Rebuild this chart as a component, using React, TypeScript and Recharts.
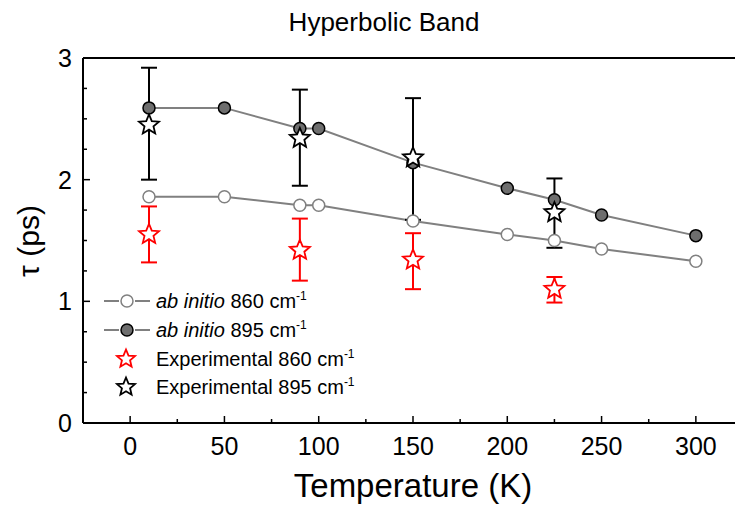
import React from "react";
import {
  ComposedChart,
  Line,
  Scatter,
  ErrorBar,
  XAxis,
  YAxis,
} from "recharts";

const temps = [10, 50, 90, 100, 150, 200, 225, 250, 300];
const abInitio860 = [1.86, 1.86, 1.79, 1.79, 1.66, 1.55, 1.5, 1.43, 1.33];
const abInitio895 = [2.59, 2.59, 2.42, 2.42, 2.14, 1.93, 1.835, 1.71, 1.54];

const expTemps = [10, 90, 150, 225];
const exp860 = [1.55, 1.42, 1.34, 1.1];
const exp860Low = [1.32, 1.17, 1.1, 0.99];
const exp860High = [1.78, 1.68, 1.56, 1.2];
const exp895 = [2.45, 2.34, 2.18, 1.73];
const exp895Low = [2.0, 1.95, 1.67, 1.44];
const exp895High = [2.92, 2.74, 2.67, 2.01];

const xTicks = [0, 25, 50, 75, 100, 125, 150, 175, 200, 225, 250, 275, 300];
const yTicks = [0, 0.25, 0.5, 0.75, 1, 1.25, 1.5, 1.75, 2, 2.25, 2.5, 2.75, 3];

const font = '"Liberation Sans", Arial, sans-serif';
const GRAY = "#808080";
const DARK = "#6e6e6e";

const line860 = temps.map((t, i) => ({ t, v: abInitio860[i] }));
const line895 = temps.map((t, i) => ({ t, v: abInitio895[i] }));
const pts860 = expTemps.map((t, i) => ({
  t,
  v: exp860[i],
  err: [exp860[i] - exp860Low[i], exp860High[i] - exp860[i]],
}));
const pts895 = expTemps.map((t, i) => ({
  t,
  v: exp895[i],
  err: [exp895[i] - exp895Low[i], exp895High[i] - exp895[i]],
}));

function starPoints(cx: number, cy: number, R: number) {
  const r = R * 0.45;
  const pts: string[] = [];
  for (let k = 0; k < 10; k++) {
    const rad = k % 2 === 0 ? R : r;
    const a = -Math.PI / 2 + (k * Math.PI) / 5;
    pts.push(`${cx + rad * Math.cos(a)},${cy + rad * Math.sin(a)}`);
  }
  return pts.join(" ");
}

const Star = ({ cx, cy, color, R = 10.5 }: any) => (
  <polygon
    points={starPoints(cx, cy, R)}
    fill="#fff"
    stroke={color}
    strokeWidth={1.8}
    strokeLinejoin="miter"
  />
);

// x ticks drawn inward, labels only on the 50s
const BottomTick = ({ x, y, payload }: any) => {
  const major = payload.value % 50 === 0;
  return (
    <g>
      <line x1={x} x2={x} y1={y} y2={y - (major ? 7 : 4)} stroke="#000" strokeWidth={1.5} />
      {major && (
        <text x={x} y={y + 32} textAnchor="middle" fontSize={25} fontFamily={font} fill="#000">
          {payload.value}
        </text>
      )}
    </g>
  );
};

const TopTick = ({ x, y, payload }: any) => {
  const major = payload.value % 50 === 0;
  return <line x1={x} x2={x} y1={y} y2={y + (major ? 7 : 4)} stroke="#000" strokeWidth={1.5} />;
};

const LeftTick = ({ x, y, payload }: any) => {
  const major = Number.isInteger(payload.value);
  return (
    <g>
      <line x1={x} x2={x + (major ? 7 : 4)} y1={y} y2={y} stroke="#000" strokeWidth={1.5} />
      {major && (
        <text x={x - 11} y={y + 9} textAnchor="end" fontSize={25} fontFamily={font} fill="#000">
          {payload.value}
        </text>
      )}
    </g>
  );
};

const legendRows = [
  { kind: "open", italic: "ab initio", rest: " 860 cm", y: 301 },
  { kind: "filled", italic: "ab initio", rest: " 895 cm", y: 330 },
  { kind: "red", italic: "", rest: "Experimental 860 cm", y: 359 },
  { kind: "black", italic: "", rest: "Experimental 895 cm", y: 387 },
];

function LegendBox() {
  return (
    <>
      {legendRows.map((row) => (
        <div
          key={row.rest + row.kind}
          style={{ position: "absolute", left: 100, top: row.y - 12, height: 24, display: "flex", alignItems: "center" }}
        >
          <svg width={54} height={24}>
            {(row.kind === "open" || row.kind === "filled") && (
              <>
                <line x1={4} x2={19} y1={12} y2={12} stroke={GRAY} strokeWidth={2} />
                <line x1={35} x2={50} y1={12} y2={12} stroke={GRAY} strokeWidth={2} />
                <circle
                  cx={27}
                  cy={12}
                  r={6}
                  fill={row.kind === "open" ? "#fff" : DARK}
                  stroke={row.kind === "open" ? GRAY : "#000"}
                  strokeWidth={1.5}
                />
              </>
            )}
            {row.kind === "red" && <Star cx={26} cy={12} R={9.5} color="#ff0000" />}
            {row.kind === "black" && <Star cx={26} cy={12} R={9.5} color="#000" />}
          </svg>
          <span style={{ marginLeft: 2, fontFamily: font, fontSize: 20, color: "#000", whiteSpace: "nowrap" }}>
            {row.italic && <i>{row.italic}</i>}
            {row.rest}
            <sup style={{ fontSize: 12 }}>-1</sup>
          </span>
        </div>
      ))}
    </>
  );
}

export default function App() {
  return (
    <div
      style={{
        position: "absolute",
        top: 0,
        left: 0,
        width: 735,
        height: 510,
        overflow: "hidden",
        background: "#fff",
        fontFamily: font,
      }}
    >
      <ComposedChart
        width={745}
        height={510}
        margin={{ top: 48, right: 2, bottom: 47, left: 53 }}
      >
        <XAxis
          xAxisId="main"
          dataKey="t"
          type="number"
          domain={[-25, 325]}
          ticks={xTicks}
          interval={0}
          height={40}
          tickSize={0}
          tickMargin={0}
          tickLine={false}
          tick={<BottomTick />}
          axisLine={{ stroke: "#000", strokeWidth: 2 }}
          allowDataOverflow
        />
        <XAxis
          xAxisId="top"
          orientation="top"
          type="number"
          domain={[-25, 325]}
          ticks={xTicks}
          interval={0}
          height={10}
          tickSize={0}
          tickMargin={0}
          tickLine={false}
          tick={<TopTick />}
          axisLine={{ stroke: "#000", strokeWidth: 2 }}
          allowDataOverflow
        />
        <YAxis
          yAxisId="main"
          type="number"
          domain={[0, 3]}
          ticks={yTicks}
          interval={0}
          width={30}
          tickSize={0}
          tickMargin={0}
          tickLine={false}
          tick={<LeftTick />}
          axisLine={{ stroke: "#000", strokeWidth: 2 }}
          allowDataOverflow
        />
        <Line
          xAxisId="main"
          yAxisId="main"
          data={line860}
          dataKey="v"
          stroke={GRAY}
          strokeWidth={2}
          dot={{ r: 6, fill: "#fff", stroke: GRAY, strokeWidth: 1.5 }}
          activeDot={false}
          isAnimationActive={false}
        />
        <Line
          xAxisId="main"
          yAxisId="main"
          data={line895}
          dataKey="v"
          stroke={GRAY}
          strokeWidth={2}
          dot={{ r: 6, fill: DARK, stroke: "#000", strokeWidth: 1.5 }}
          activeDot={false}
          isAnimationActive={false}
        />
        <Scatter
          xAxisId="main"
          yAxisId="main"
          data={pts860}
          dataKey="v"
          shape={(p: any) => <Star cx={p.cx} cy={p.cy} color="#ff0000" />}
          isAnimationActive={false}
        >
          <ErrorBar dataKey="err" direction="y" width={8} stroke="#ff0000" strokeWidth={2} />
        </Scatter>
        <Scatter
          xAxisId="main"
          yAxisId="main"
          data={pts895}
          dataKey="v"
          shape={(p: any) => <Star cx={p.cx} cy={p.cy} color="#000" />}
          isAnimationActive={false}
        >
          <ErrorBar dataKey="err" direction="y" width={8} stroke="#000" strokeWidth={2} />
        </Scatter>
      </ComposedChart>

      <div style={{ position: "absolute", left: 0, width: 768, top: 7, textAlign: "center", fontSize: 26, color: "#000" }}>
        Hyperbolic Band
      </div>
      <div style={{ position: "absolute", left: 83, width: 660, top: 467, textAlign: "center", fontSize: 33, color: "#000" }}>
        Temperature (K)
      </div>
      <div
        style={{
          position: "absolute",
          left: 29,
          top: 241,
          transform: "translate(-50%, -50%) rotate(-90deg)",
          fontSize: 30,
          color: "#000",
          whiteSpace: "nowrap",
        }}
      >
        τ (ps)
      </div>
      <LegendBox />
    </div>
  );
}
